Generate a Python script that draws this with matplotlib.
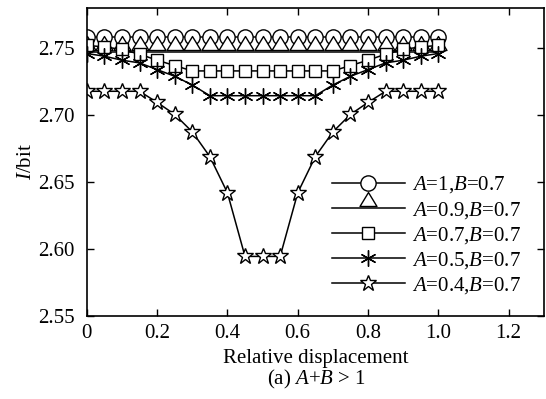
import matplotlib
matplotlib.use("Agg")
import matplotlib.pyplot as plt
from matplotlib.path import Path

plt.rcParams["font.family"] = ["Liberation Serif", "DejaVu Serif"]
plt.rcParams["mathtext.fontset"] = "custom"
plt.rcParams["mathtext.rm"] = "Liberation Serif"
plt.rcParams["mathtext.it"] = "Liberation Serif:italic"

# relative displacement
x = [0.0, 0.05, 0.1, 0.15, 0.2, 0.25, 0.3, 0.35, 0.4, 0.45, 0.5,
     0.55, 0.6, 0.65, 0.7, 0.75, 0.8, 0.85, 0.9, 0.95, 1.0]

i_a10 = [2.7585, 2.7585, 2.7585, 2.7585, 2.7585, 2.7585, 2.7585, 2.7585, 2.7585, 2.7585, 2.7585,
         2.7585, 2.7585, 2.7585, 2.7585, 2.7585, 2.7585, 2.7585, 2.7585, 2.7585, 2.7585]
i_a09 = [2.7475, 2.7475, 2.7475, 2.7475, 2.7475, 2.7475, 2.7475, 2.7475, 2.7475, 2.7475, 2.7475,
         2.7475, 2.7475, 2.7475, 2.7475, 2.7475, 2.7475, 2.7475, 2.7475, 2.7475, 2.7475]
i_a07 = [2.752, 2.751, 2.749, 2.7455, 2.741, 2.737, 2.733, 2.733, 2.733, 2.733, 2.733,
         2.733, 2.733, 2.733, 2.733, 2.737, 2.741, 2.7455, 2.749, 2.751, 2.752]
i_a05 = [2.746, 2.744, 2.741, 2.739, 2.734, 2.729, 2.7225, 2.7145, 2.7145, 2.7145, 2.7145,
         2.7145, 2.7145, 2.7145, 2.7225, 2.729, 2.734, 2.739, 2.741, 2.744, 2.746]
i_a04 = [2.7178, 2.7178, 2.7178, 2.7178, 2.7095, 2.7005, 2.6875, 2.669, 2.642, 2.5945, 2.5945,
         2.5945, 2.642, 2.669, 2.6875, 2.7005, 2.7095, 2.7178, 2.7178, 2.7178, 2.7178]

labels = [r"$A$=1,$B$=0.7", r"$A$=0.9,$B$=0.7", r"$A$=0.7,$B$=0.7",
          r"$A$=0.5,$B$=0.7", r"$A$=0.4,$B$=0.7"]

# triangle that sits on top of its line, like in the original figure
tri = Path([(0, 16), (-8.5, 2), (8.5, 2), (0, 16)],
           [Path.MOVETO, Path.LINETO, Path.LINETO, Path.CLOSEPOLY])

fig = plt.figure(figsize=(5.46, 3.99), dpi=100)
ax = fig.add_axes([0.159, 0.208, 0.837, 0.772])

kw = dict(color="black", lw=1.1, mfc="white", mec="black", mew=1.0)
ax.plot(x, i_a10, marker="o", ms=11, label=labels[0], **kw)
ax.plot(x, i_a09, marker=tri, ms=23, label=labels[1], **kw)
ax.plot(x, i_a07, marker="s", ms=8.6, label=labels[2], **kw)
ax.plot(x, i_a05, marker=(6, 2, 0), ms=11.5, label=labels[3], **kw)
ax.plot(x, i_a04, marker="*", ms=12, label=labels[4], **kw)

ax.set_xlim(0, 1.3)
ax.set_ylim(2.55, 2.78)
ax.set_xticks([0, 0.2, 0.4, 0.6, 0.8, 1.0, 1.2])
ax.set_xticklabels(["0", "0.2", "0.4", "0.6", "0.8", "1.0", "1.2"])
ax.set_yticks([2.55, 2.60, 2.65, 2.70, 2.75])
ax.tick_params(direction="in", top=True, right=True, length=5, width=1,
               labelsize=15)
ax.tick_params(axis="x", pad=6)
ax.tick_params(axis="y", pad=9)
for s in ax.spines.values():
    s.set_linewidth(1.2)

ax.set_ylabel(r"$I$/bit", fontsize=15, labelpad=1)
ax.set_xlabel("Relative displacement", fontsize=15, labelpad=4)
fig.text(0.579, 0.05, r"(a) $A$+$B$ > 1", fontsize=15, ha="center", va="center")

ax.legend(loc="upper left", bbox_to_anchor=(0.495, 0.52), frameon=False,
          fontsize=15, handlelength=3.5, handletextpad=0.33, labelspacing=0.2)

fig.savefig("out.png", dpi=100)
